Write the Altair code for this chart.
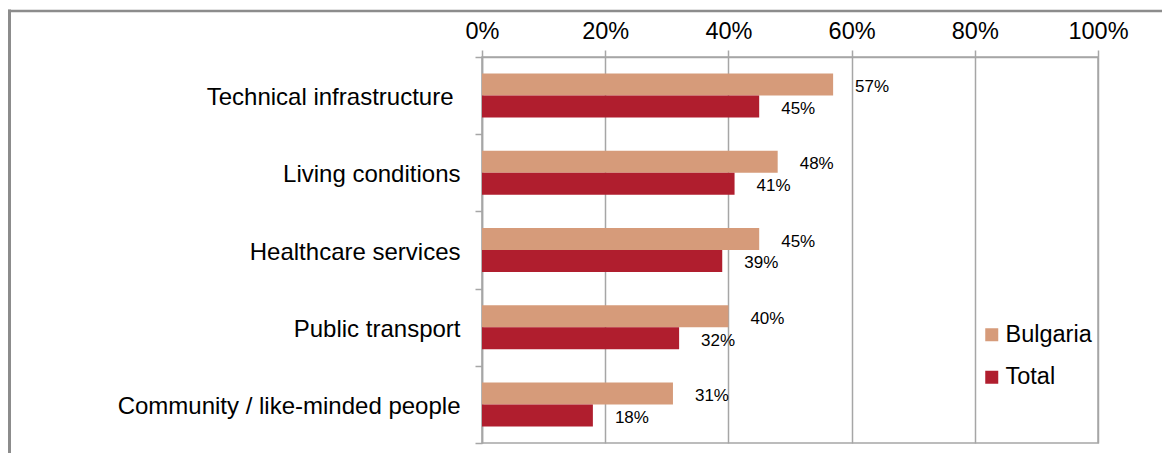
import altair as alt
import pandas as pd

categories = ["Technical infrastructure", "Living conditions", "Healthcare services",
              "Public transport", "Community / like-minded people"]
bulgaria = [57, 48, 45, 40, 31]
total = [45, 41, 39, 32, 18]
series = ["Bulgaria", "Total"]
colors = ["#D69B7A", "#B01E2E"]
x_ticks = [0, 0.2, 0.4, 0.6, 0.8, 1.0]

rows = []
for c, b, t in zip(categories, bulgaria, total):
    rows.append({"category": c, "series": "Bulgaria", "value": b / 100})
    rows.append({"category": c, "series": "Total", "value": t / 100})
df = pd.DataFrame(rows)

FONT = "Liberation Sans"
GRAY = "#A6A6A6"

y_enc = alt.Y(
    "category:N", sort=categories, title=None,
    scale=alt.Scale(paddingInner=0, paddingOuter=0),
    axis=alt.Axis(tickBand="extent", tickSize=7, tickColor=GRAY, tickWidth=1.5,
                  domainColor=GRAY, domainWidth=1.5,
                  labelPadding={"condition": {"test": "datum.value == 'Technical infrastructure'",
                                              "value": 22},
                                "value": 15},
                  labelOffset=2,
                  labelFontSize=24, labelFont=FONT, labelColor="#000000",
                  labelLimit=500),
)
x_enc = alt.X(
    "value:Q", title=None,
    scale=alt.Scale(domain=[0, 1]),
    axis=alt.Axis(orient="top", values=x_ticks, format=".0%", grid=True,
                  gridColor=GRAY, gridWidth=1.5, tickSize=7, tickColor=GRAY,
                  tickWidth=1.5, domainColor=GRAY, domainWidth=1.5,
                  labelPadding=7, labelFontSize=23.5, labelFont=FONT,
                  labelColor="#000000", labelFlush=False),
)
yoff = alt.YOffset("series:N", sort=series,
                   scale=alt.Scale(paddingInner=0, paddingOuter=0.755))

bars = alt.Chart(df).mark_bar().encode(
    x=x_enc, y=y_enc, yOffset=yoff,
    color=alt.Color("series:N",
                    scale=alt.Scale(domain=series, range=colors),
                    legend=alt.Legend(title=None, orient="none", legendX=498, legendY=266,
                                      symbolType="square", symbolSize=169,
                                      symbolStrokeWidth=0, labelFontSize=23.5,
                                      labelFont=FONT, labelColor="#000000",
                                      rowPadding=17.5, labelOffset=2)),
)

labels = alt.Chart(df).mark_text(align="left", baseline="middle", dx=22, dy=2.5,
                                 fontSize=17, font=FONT, color="#000000").encode(
    x="value:Q", y=alt.Y("category:N", sort=categories), yOffset=yoff,
    text=alt.Text("value:Q", format=".0%"),
)

frame_df = pd.DataFrame({"k": [0]})
frame_left = alt.Chart(frame_df).mark_rule(color="#8C8C8C", strokeWidth=3).encode(
    x=alt.value(-472.5), y=alt.value(-47.5), y2=alt.value(500))
frame_top = alt.Chart(frame_df).mark_rule(color="#8C8C8C", strokeWidth=2.5).encode(
    y=alt.value(-46), x=alt.value(-474), x2=alt.value(800))

chart = alt.layer(bars, labels, frame_left, frame_top).properties(
    width=616, height=386,
    autosize=alt.AutoSizeParams(type="none"),
    padding={"left": 474, "top": 49, "right": 64, "bottom": 10},
).configure_view(stroke=GRAY, strokeWidth=1.5)

chart.save("out.html", embed_options={"renderer": "svg", "actions": False})
